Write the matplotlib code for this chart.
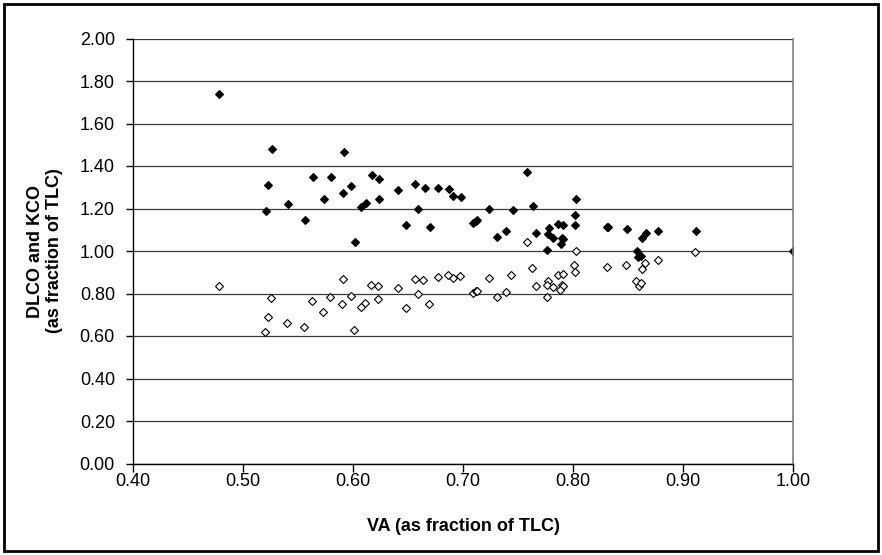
import matplotlib
matplotlib.use("Agg")
import matplotlib.pyplot as plt
from matplotlib.patches import Rectangle

plt.rcParams['font.family'] = ['Liberation Sans', 'DejaVu Sans']

# KCO (filled diamonds)
kco_va = [0.478, 0.526, 0.5915, 0.564, 0.580, 0.523, 0.591, 0.574, 0.541, 0.598,
          0.617, 0.624, 0.641, 0.656, 0.665, 0.677, 0.687, 0.691, 0.698, 0.758,
          0.612, 0.624, 0.607, 0.764, 0.659, 0.724, 0.745, 0.648, 0.670, 0.709,
          0.712, 0.713, 0.731, 0.739, 0.766, 0.778, 0.777, 0.782, 0.776, 0.602,
          0.521, 0.556, 0.803, 0.802, 0.802, 0.786, 0.791, 0.790, 0.791, 0.789,
          0.831, 0.832, 0.849, 0.866, 0.863, 0.877, 0.912, 0.858, 0.859, 0.862,
          1.000]
kco = [1.739, 1.479, 1.464, 1.350, 1.350, 1.312, 1.274, 1.243, 1.221, 1.307,
       1.359, 1.337, 1.286, 1.317, 1.295, 1.295, 1.290, 1.259, 1.256, 1.372,
       1.227, 1.243, 1.207, 1.210, 1.199, 1.199, 1.191, 1.122, 1.114, 1.130,
       1.141, 1.145, 1.067, 1.094, 1.085, 1.107, 1.080, 1.060, 1.003, 1.041,
       1.188, 1.144, 1.246, 1.171, 1.124, 1.128, 1.124, 1.063, 1.055, 1.033,
       1.112, 1.114, 1.102, 1.085, 1.060, 1.094, 1.094, 1.000, 0.973, 0.978,
       1.000]

# DLCO (open diamonds)
dlco_va = [0.478, 0.591, 0.525, 0.563, 0.579, 0.590, 0.573, 0.523, 0.540, 0.555,
           0.520, 0.758, 0.763, 0.724, 0.744, 0.777, 0.766, 0.776, 0.782, 0.776,
           0.731, 0.739, 0.709, 0.712, 0.713, 0.697, 0.691, 0.686, 0.677, 0.664,
           0.656, 0.659, 0.669, 0.648, 0.641, 0.623, 0.616, 0.623, 0.611, 0.607,
           0.598, 0.601, 0.803, 0.801, 0.802, 0.786, 0.791, 0.790, 0.791, 0.788,
           0.831, 0.848, 0.865, 0.863, 0.877, 0.911, 0.857, 0.860, 0.862]
dlco = [0.834, 0.868, 0.777, 0.765, 0.782, 0.752, 0.714, 0.688, 0.663, 0.641,
        0.620, 1.044, 0.920, 0.873, 0.888, 0.859, 0.834, 0.841, 0.829, 0.782,
        0.782, 0.807, 0.802, 0.813, 0.810, 0.882, 0.873, 0.886, 0.878, 0.864,
        0.870, 0.796, 0.749, 0.732, 0.826, 0.835, 0.839, 0.774, 0.754, 0.735,
        0.787, 0.628, 1.000, 0.936, 0.901, 0.888, 0.893, 0.841, 0.835, 0.816,
        0.925, 0.936, 0.942, 0.914, 0.958, 0.995, 0.857, 0.837, 0.848]

x_ticks = [0.40, 0.50, 0.60, 0.70, 0.80, 0.90, 1.00]
y_ticks = [0.00, 0.20, 0.40, 0.60, 0.80, 1.00, 1.20, 1.40, 1.60, 1.80, 2.00]

W, H = 882, 555
fig = plt.figure(figsize=(W / 100, H / 100), dpi=100)
ax = fig.add_axes([133 / W, 1 - 463.5 / H, 660 / W, 425 / H])

ax.set_xlim(0.4, 1.0)
ax.set_ylim(0.0, 2.0)
ax.set_xticks(x_ticks)
ax.set_yticks(y_ticks)
ax.set_xticklabels([f"{v:.2f}" for v in x_ticks])
ax.set_yticklabels([f"{v:.2f}" for v in y_ticks])

ax.grid(axis='y', color='#3a3a3a', linewidth=0.9)
ax.set_axisbelow(True)

ax.plot(dlco_va, dlco, linestyle='none', marker='D', ms=4.0,
        mfc='white', mec='black', mew=0.8)
ax.plot(kco_va, kco, linestyle='none', marker='D', ms=4.0,
        mfc='black', mec='black', mew=0.8)

ax.spines['top'].set_visible(False)
ax.spines['right'].set_color('#808080')
ax.spines['right'].set_linewidth(1.2)
for s in ('left', 'bottom'):
    ax.spines[s].set_color('black')
    ax.spines[s].set_linewidth(1.0)

ax.tick_params(axis='y', direction='out', length=5, width=1, pad=8, labelsize=13)
ax.tick_params(axis='x', direction='out', length=6, width=1, pad=1, labelsize=13)

ax.set_xlabel("VA (as fraction of TLC)", fontsize=13, fontweight='bold', labelpad=20)
fig.text(45 / W, 1 - 251 / H, "DLCO and KCO\n(as fraction of TLC)", rotation=90,
         ha='center', va='center', fontsize=13, fontweight='bold', linespacing=1.15)

fig.patches.append(Rectangle((4 / W, 4 / H), 874 / W, 547 / H, transform=fig.transFigure,
                             fill=False, edgecolor='black', linewidth=2))

fig.savefig("out.png", dpi=100)
